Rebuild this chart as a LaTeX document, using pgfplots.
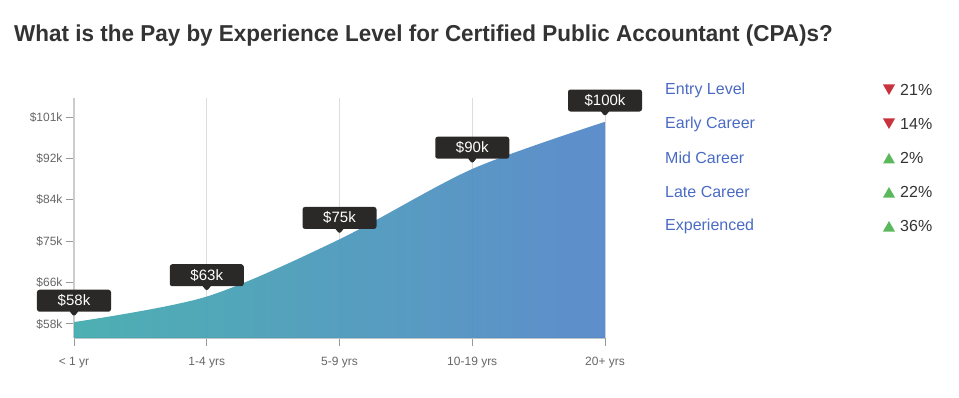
\documentclass[border=0pt]{standalone}
\usepackage{fontspec}
\setmainfont{Liberation Sans}
\usepackage{pgfplots}
\pgfplotsset{compat=1.18}
\usetikzlibrary{shapes.callouts}
\definecolor{titlec}{HTML}{333333}
\definecolor{tickc}{HTML}{666666}
\definecolor{axisc}{HTML}{CCCCCC}
\definecolor{gridc}{HTML}{DDDDDD}
\definecolor{tmarkc}{HTML}{999999}
\definecolor{boxc}{HTML}{2B2828}
\definecolor{leftc}{HTML}{40AAAC}
\definecolor{rightc}{HTML}{5285C8}
\definecolor{legc}{HTML}{4A6BC4}
\definecolor{downc}{HTML}{C8323C}
\definecolor{upc}{HTML}{5CB85C}
\begin{document}
\begin{tikzpicture}[x=1pt,y=1pt]
\path (0,0) rectangle (959,397);
\node[anchor=base west, inner sep=0, text=titlec, font={\fontspec{Liberation Sans}[FakeStretch=0.977]\fontsize{23}{27}\selectfont\bfseries}] at (14,355.5) {What is the Pay by Experience Level for Certified Public Accountant (CPA)s?};
\begin{axis}[
  at={(74pt,59pt)}, anchor=south west, scale only axis,
  width=531pt, height=240pt,
  xmin=0, xmax=4, ymin=55.09, ymax=104.95,
  clip=false,
  axis x line*=bottom, axis y line*=left,
  axis line style={draw=axisc, line width=1.5pt},
  xtick={0,1,2,3,4},
  xticklabels={< 1 yr, 1-4 yrs, 5-9 yrs, 10-19 yrs, 20+ yrs},
  ytick={58,66.6,75.2,83.8,92.4,101},
  yticklabels={\$58k,\$66k,\$75k,\$84k,\$92k,\$101k},
  xmajorgrids, major grid style={draw=gridc, line width=0.8pt},
  tick align=outside, major tick length=8pt,
  tick style={draw=tmarkc, line width=1pt},
  ticklabel style={font=\fontsize{12}{14}\selectfont, text=tickc},
  xticklabel style={yshift=-8pt},
  yticklabel style={xshift=0pt},
]
\addplot[smooth, draw=none, left color=leftc, right color=rightc, fill opacity=0.93] table {
x y
0 58.4
1 63.7
2 75.6
3 90.2
4 100
} \closedcycle;
\addplot[draw=none, mark=none, point meta=explicit symbolic,
  nodes near coords={\$\pgfplotspointmeta},
  every node near coord/.append style={rectangle callout, fill=boxc, text=white,
    rounded corners=2.5pt, minimum width=74pt, minimum height=22pt, inner sep=0pt,
    font=\fontsize{15}{17}\selectfont,
    callout relative pointer={(0pt,-5pt)}, callout pointer width=8pt,
    anchor=pointer, yshift=5pt}]
  table[meta=lab] {
x y lab
0 58.4 58k
1 63.7 63k
2 75.6 75k
3 90.2 90k
4 100 100k
};
\end{axis}
% side list
\foreach \y/\name/\pct/\dir in {307/Entry Level/21\%/d, 273/Early Career/14\%/d, 239/Mid Career/2\%/u, 205/Late Career/22\%/u, 171/Experienced/36\%/u}{
  \node[anchor=west, inner sep=0, text=legc, font=\fontsize{16}{19}\selectfont] at (665,\y) {\name};
  \node[anchor=west, inner sep=0, text=titlec, font=\fontsize{16}{19}\selectfont] at (900,\y) {\pct};
  \if\dir d
    \fill[downc] (883,\y+5.5) -- (895,\y+5.5) -- (889,\y-5) -- cycle;
  \else
    \fill[upc] (883,\y-5.5) -- (895,\y-5.5) -- (889,\y+5) -- cycle;
  \fi
}
\end{tikzpicture}
\end{document}
